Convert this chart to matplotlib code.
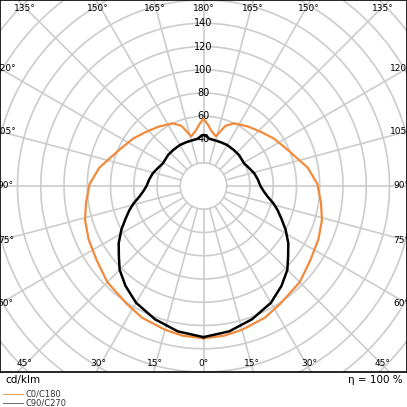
import numpy as np
import matplotlib
matplotlib.use("Agg")
import matplotlib.pyplot as plt

gamma = [0, 8, 15, 25, 33, 45, 55, 65, 74, 82, 91, 100, 113, 124, 133, 143, 154, 160, 166, 172, 176, 180]
c0_c180 = [131, 130, 128, 125, 121, 117, 112, 109, 106, 102, 98, 91, 79, 73, 68, 64, 60, 55, 44, 48, 53, 58]
gamma_b = [0, 10, 20, 30, 38, 45, 50, 56, 62, 67, 72, 76, 80.5, 85, 90, 97, 104, 112, 119, 131, 140, 150, 158, 166, 173, 177, 180]
c90_c270 = [130, 127, 122, 116, 109, 102, 95, 88, 80, 73, 67, 62, 56, 52, 49, 47, 45, 42, 40, 40.5, 40.5, 40.7, 40.5, 40.5, 41, 43, 44]
ring_labels = [40, 60, 80, 100, 120, 140]
angle_labels = [0, 15, 30, 45, 60, 75, 90, 105, 120, 135, 150, 165, 180]

fig = plt.figure(figsize=(4.07, 4.07), dpi=100)
ax = fig.add_axes([0, 35/407, 1, 372/407])
ax.set_xlim(-175, 175)
ax.set_ylim(-160, 160)
ax.set_aspect("equal")
ax.set_xticks([]); ax.set_yticks([])
for s in ax.spines.values():
    s.set_linewidth(1.2)

grey = "#cccccc"
t = np.linspace(0, 2*np.pi, 400)
for r in range(20, 260, 20):
    ax.plot(r*np.cos(t), r*np.sin(t), color=grey, lw=1.2, zorder=1)
for a in range(0, 360, 15):
    ar = np.radians(a)
    ax.plot([20*np.sin(ar), 300*np.sin(ar)], [-20*np.cos(ar), -300*np.cos(ar)], color=grey, lw=1.2, zorder=1)

for r in ring_labels:
    ax.text(0, r, str(r), ha="center", va="center", fontsize=7, zorder=2)

def curve(g, v):
    g = np.radians(np.array(g, float)); v = np.array(v, float)
    gg = np.concatenate([g, 2*np.pi - g[::-1]])
    vv = np.concatenate([v, v[::-1]])
    return -vv*np.sin(gg), -vv*np.cos(gg)

x, y = curve(gamma, c0_c180)
ax.plot(x, y, color="#f28a3c", lw=1.6, zorder=3)
x, y = curve(gamma_b, c90_c270)
ax.plot(x, y, color="black", lw=1.8, zorder=3)

fs = 6.5
for a in angle_labels:
    ar = np.radians(a)
    lab = f"{a}°"
    if a < 45:
        for sgn in ([1] if a == 0 else [-1, 1]):
            ax.text(sgn*157*np.tan(ar), -153, lab, ha="center", va="center", fontsize=fs, zorder=4)
    elif a == 45:
        for sgn in [-1, 1]:
            ax.text(sgn*154, -153, lab, ha="center", va="center", fontsize=fs, zorder=4)
            ax.text(sgn*154, 153, "135°", ha="center", va="center", fontsize=fs, zorder=4)
    elif a <= 120:
        yy = -175*np.tan(np.radians(90 - a)) if a != 90 else 0
        for sgn in [-1, 1]:
            ax.text(sgn*170, yy, lab, ha="center", va="center", fontsize=fs, zorder=4)
    elif a > 135:
        for sgn in ([1] if a == 180 else [-1, 1]):
            ax.text(sgn*157*np.tan(np.radians(180-a)), 153, lab, ha="center", va="center", fontsize=fs, zorder=4)

fig.text(5/407, 1-380/407, "cd/klm", ha="left", va="center", fontsize=7.5)
fig.text(403/407, 1-380/407, "η = 100 %", ha="right", va="center", fontsize=7.5)
fig.add_artist(plt.Line2D([3/407, 23/407], [1-394/407]*2, color="#f28a3c", lw=0.6))
fig.add_artist(plt.Line2D([3/407, 23/407], [1-403/407]*2, color="#555555", lw=0.6))
fig.text(26/407, 1-394/407, "C0/C180", ha="left", va="center", fontsize=6, color="#333333")
fig.text(26/407, 1-403/407, "C90/C270", ha="left", va="center", fontsize=6, color="#333333")

fig.savefig("out.png", dpi=100)
